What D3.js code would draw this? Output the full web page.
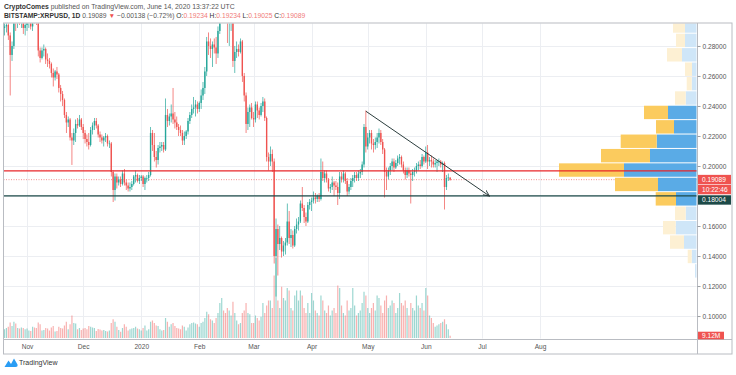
<!DOCTYPE html>
<html><head><meta charset="utf-8">
<script src="https://cdn.jsdelivr.net/npm/d3@7"></script>
<style>
body{margin:0;background:#fff;}
svg{display:block;font-family:"Liberation Sans",Arial,sans-serif;}
</style>
</head><body>
<svg id="c" width="736" height="375"></svg>
<script>
// ---------------- DATA ----------------
const startDate = "2019-10-20";            // first daily candle
// [open, high, low, close, volume (M)]
const candlesOct2019 = [
[0.292,0.296,0.287,0.293,35],[0.293,0.298,0.289,0.294,40],[0.294,0.297,0.284,0.287,45],
[0.287,0.289,0.247,0.274,62],[0.274,0.283,0.270,0.280,48],[0.280,0.305,0.278,0.301,65],
[0.301,0.320,0.290,0.298,58],[0.298,0.305,0.292,0.301,40],[0.301,0.306,0.294,0.297,38],
[0.297,0.304,0.292,0.301,42],[0.301,0.302,0.288,0.292,40],[0.292,0.296,0.287,0.294,35]];
const candlesNov2019 = [
[0.294,0.300,0.290,0.296,38],[0.296,0.301,0.292,0.297,30],[0.297,0.300,0.291,0.293,28],
[0.293,0.304,0.290,0.302,45],[0.302,0.306,0.295,0.300,42],[0.300,0.304,0.294,0.299,40],
[0.299,0.300,0.273,0.277,62],[0.277,0.279,0.269,0.272,55],[0.272,0.279,0.271,0.277,30],
[0.277,0.281,0.273,0.278,32],[0.278,0.279,0.268,0.271,40],[0.271,0.275,0.266,0.270,38],
[0.270,0.272,0.265,0.268,30],[0.268,0.269,0.259,0.262,42],[0.262,0.265,0.253,0.259,48],
[0.259,0.264,0.257,0.263,26],[0.263,0.266,0.258,0.261,28],[0.261,0.262,0.249,0.252,45],
[0.252,0.254,0.243,0.248,40],[0.248,0.250,0.240,0.244,38],[0.244,0.245,0.232,0.234,50],
[0.234,0.236,0.222,0.229,65],[0.229,0.233,0.226,0.231,35],[0.231,0.232,0.217,0.219,55],
[0.219,0.222,0.2007,0.217,90],[0.217,0.225,0.214,0.222,60],[0.222,0.231,0.216,0.228,58],
[0.228,0.232,0.225,0.227,35],[0.227,0.234,0.226,0.231,40],[0.231,0.232,0.224,0.226,32]];
const candlesDec2019 = [
[0.226,0.228,0.218,0.222,38],[0.222,0.224,0.215,0.218,40],[0.218,0.221,0.213,0.216,35],
[0.216,0.222,0.211,0.214,48],[0.214,0.226,0.213,0.224,45],[0.224,0.229,0.221,0.227,42],
[0.227,0.232,0.224,0.230,40],[0.230,0.232,0.225,0.227,28],[0.227,0.228,0.219,0.221,36],
[0.221,0.223,0.216,0.219,34],[0.219,0.221,0.215,0.217,30],[0.217,0.220,0.213,0.219,32],
[0.219,0.222,0.216,0.220,28],[0.220,0.221,0.213,0.215,26],[0.215,0.217,0.212,0.215,30],
[0.215,0.216,0.193,0.196,60],[0.196,0.197,0.176,0.184,75],[0.184,0.195,0.177,0.193,65],
[0.193,0.195,0.185,0.189,45],[0.189,0.193,0.187,0.191,32],[0.191,0.193,0.186,0.188,25],
[0.188,0.197,0.187,0.195,40],[0.195,0.198,0.187,0.189,55],[0.189,0.191,0.184,0.187,45],
[0.187,0.189,0.183,0.185,30],[0.185,0.189,0.183,0.186,35],[0.186,0.190,0.184,0.188,38],
[0.188,0.194,0.187,0.193,40],[0.193,0.197,0.189,0.194,45],[0.194,0.195,0.189,0.190,38],
[0.190,0.194,0.188,0.192,35]];
const candlesJan2020 = [
[0.192,0.194,0.190,0.193,30],[0.193,0.194,0.186,0.188,40],[0.188,0.193,0.184,0.192,50],
[0.192,0.194,0.189,0.192,30],[0.192,0.196,0.190,0.194,35],[0.194,0.226,0.193,0.222,65],
[0.222,0.224,0.210,0.214,70],[0.214,0.222,0.203,0.206,60],[0.206,0.210,0.199,0.204,50],
[0.204,0.214,0.201,0.212,48],[0.212,0.216,0.209,0.213,35],[0.213,0.216,0.210,0.214,30],
[0.214,0.216,0.209,0.211,32],[0.211,0.245,0.210,0.234,80],[0.234,0.238,0.226,0.230,65],
[0.230,0.235,0.227,0.233,45],[0.233,0.241,0.229,0.235,55],[0.235,0.252,0.228,0.231,60],
[0.231,0.236,0.225,0.229,48],[0.229,0.233,0.224,0.226,40],[0.226,0.228,0.220,0.224,38],
[0.224,0.227,0.220,0.222,35],[0.222,0.224,0.214,0.217,50],[0.217,0.223,0.214,0.220,45],
[0.220,0.224,0.218,0.223,30],[0.223,0.232,0.221,0.230,42],[0.230,0.236,0.228,0.234,55],
[0.234,0.241,0.232,0.238,60],[0.238,0.246,0.235,0.239,62],[0.239,0.244,0.233,0.241,58],
[0.241,0.243,0.235,0.238,55]];
const candlesFeb2020 = [
[0.238,0.243,0.236,0.242,45],[0.242,0.251,0.238,0.247,60],[0.247,0.256,0.244,0.252,65],
[0.252,0.266,0.248,0.263,80],[0.263,0.286,0.260,0.283,105],[0.283,0.289,0.274,0.280,95],
[0.280,0.285,0.272,0.278,75],[0.278,0.283,0.266,0.281,70],[0.281,0.285,0.275,0.279,60],
[0.279,0.286,0.268,0.275,80],[0.275,0.293,0.272,0.290,100],[0.290,0.320,0.288,0.315,140],
[0.315,0.345,0.310,0.330,160],[0.330,0.340,0.318,0.328,110],[0.328,0.335,0.305,0.312,100],
[0.312,0.318,0.282,0.298,120],[0.298,0.305,0.280,0.300,110],[0.300,0.310,0.290,0.305,90],
[0.305,0.308,0.266,0.270,145],[0.270,0.280,0.262,0.276,100],[0.276,0.283,0.272,0.278,70],
[0.278,0.281,0.273,0.276,55],[0.276,0.285,0.275,0.283,60],[0.283,0.284,0.256,0.260,100],
[0.260,0.262,0.243,0.247,110],[0.247,0.249,0.222,0.228,140],[0.228,0.239,0.224,0.236,100],
[0.236,0.241,0.226,0.239,95],[0.239,0.242,0.231,0.232,60]];
const candlesMar2020 = [
[0.232,0.236,0.226,0.231,60],[0.231,0.243,0.229,0.241,90],[0.241,0.243,0.232,0.237,80],
[0.237,0.239,0.231,0.234,70],[0.234,0.242,0.233,0.240,85],[0.240,0.246,0.236,0.243,140],
[0.243,0.245,0.230,0.232,100],[0.232,0.233,0.203,0.206,130],[0.206,0.209,0.197,0.203,150],
[0.203,0.213,0.200,0.208,150],[0.208,0.211,0.196,0.203,120],[0.203,0.205,0.135,0.140,250],
[0.140,0.165,0.113,0.158,320],[0.158,0.161,0.127,0.148,150],[0.148,0.160,0.144,0.152,120],
[0.152,0.153,0.139,0.143,205],[0.143,0.150,0.140,0.147,160],[0.147,0.152,0.141,0.149,150],
[0.149,0.175,0.147,0.163,200],[0.163,0.170,0.148,0.152,190],[0.152,0.158,0.146,0.154,120],
[0.154,0.157,0.145,0.147,110],[0.147,0.160,0.146,0.158,170],[0.158,0.165,0.155,0.161,190],
[0.161,0.166,0.157,0.163,150],[0.163,0.177,0.162,0.175,190],[0.175,0.186,0.170,0.172,170],
[0.172,0.174,0.162,0.166,120],[0.166,0.169,0.160,0.163,100],[0.163,0.176,0.162,0.174,140],
[0.174,0.178,0.171,0.176,100]];
const candlesApr2020 = [
[0.176,0.179,0.170,0.177,180],[0.177,0.183,0.175,0.179,150],[0.179,0.182,0.175,0.178,110],
[0.178,0.181,0.176,0.180,100],[0.180,0.182,0.176,0.178,90],[0.178,0.205,0.177,0.196,170],
[0.196,0.203,0.190,0.192,150],[0.192,0.197,0.189,0.195,110],[0.195,0.197,0.189,0.191,100],
[0.191,0.192,0.183,0.185,130],[0.185,0.188,0.182,0.186,90],[0.186,0.193,0.184,0.189,110],
[0.189,0.190,0.180,0.187,120],[0.187,0.190,0.184,0.186,100],[0.186,0.189,0.174,0.182,210],
[0.182,0.196,0.178,0.193,200],[0.193,0.196,0.189,0.191,130],[0.191,0.197,0.189,0.195,100],
[0.195,0.196,0.188,0.190,90],[0.190,0.192,0.180,0.183,150],[0.183,0.188,0.181,0.186,110],
[0.186,0.192,0.184,0.190,120],[0.190,0.194,0.186,0.192,200],[0.192,0.196,0.189,0.194,130],
[0.194,0.196,0.190,0.192,90],[0.192,0.197,0.190,0.195,100],[0.195,0.198,0.192,0.196,110],
[0.196,0.203,0.194,0.201,140],[0.201,0.228,0.199,0.226,185],[0.226,0.237,0.209,0.213,170]];
const candlesMay2020 = [
[0.213,0.222,0.211,0.219,120],[0.219,0.224,0.215,0.222,100],[0.222,0.224,0.211,0.215,120],
[0.215,0.218,0.209,0.214,140],[0.214,0.219,0.211,0.216,110],[0.216,0.222,0.212,0.219,170],
[0.219,0.225,0.215,0.222,160],[0.222,0.224,0.214,0.216,130],[0.216,0.218,0.208,0.211,100],
[0.211,0.212,0.179,0.196,150],[0.196,0.199,0.184,0.193,170],[0.193,0.199,0.191,0.197,120],
[0.197,0.202,0.194,0.200,130],[0.200,0.205,0.197,0.203,150],[0.203,0.205,0.196,0.199,140],
[0.199,0.204,0.198,0.202,100],[0.202,0.207,0.200,0.205,120],[0.205,0.208,0.201,0.206,180],
[0.206,0.207,0.199,0.201,140],[0.201,0.203,0.195,0.197,130],[0.197,0.199,0.191,0.194,150],
[0.194,0.199,0.192,0.197,120],[0.197,0.199,0.193,0.195,90],[0.195,0.197,0.175,0.194,140],
[0.194,0.198,0.190,0.196,120],[0.196,0.199,0.193,0.197,110],[0.197,0.202,0.195,0.200,170],
[0.200,0.203,0.197,0.201,130],[0.201,0.204,0.198,0.200,120],[0.200,0.208,0.199,0.206,140],
[0.206,0.207,0.201,0.203,110]];
const candlesJun2020 = [
[0.203,0.213,0.202,0.209,200],[0.209,0.214,0.198,0.203,170],[0.203,0.206,0.200,0.204,90],
[0.204,0.207,0.199,0.203,80],[0.203,0.205,0.199,0.201,60],[0.201,0.204,0.199,0.202,45],
[0.202,0.204,0.196,0.203,50],[0.203,0.205,0.200,0.203,55],[0.203,0.204,0.199,0.201,60],
[0.201,0.203,0.196,0.202,65],[0.202,0.203,0.171,0.186,75],[0.186,0.194,0.184,0.192,55],
[0.192,0.195,0.190,0.19234,35],[0.19234,0.19234,0.19025,0.19089,9.12]];

// Visible volume profile (rows from lowest price upward)
const profileBottom = 0.1253, profileRowSize = 0.0096;
const profileUp   = [40,106,260,426,226,420,780,1460,940,806,460,580,226,106,100,300,240,240];
const profileDown = [0,80,280,254,214,406,860,1300,980,720,360,480,214,100,140,300,180,240];
const valueAreaRows = [5, 11];

const priceTicks = [0.10,0.12,0.14,0.16,0.18,0.20,0.22,0.24,0.26,0.28];
const monthTicks = ["2019-11-01","2019-12-01","2020-01-01","2020-02-01","2020-03-01","2020-04-01","2020-05-01","2020-06-01","2020-07-01","2020-08-01"];
const monthLabels = ["Nov","Dec","2020","Feb","Mar","Apr","May","Jun","Jul","Aug"];

const resistanceLevel = 0.1967;
const supportLevel = 0.18004;
const lastPrice = 0.19089;
const countdown = "10:22:46";
const lastVolumeLabel = "9.12M";
const trendLine = [["2020-04-30",0.2365],["2020-07-05",0.1800]];

// ---------------- LAYOUT ----------------
const L = 3.5, T = 23, PR = 697, R = 732, AX = 339, B = 354;
const UP = "#26a69a", DN = "#ef5350";

const parse = d3.utcParse("%Y-%m-%d");
const all = [].concat(candlesOct2019,candlesNov2019,candlesDec2019,candlesJan2020,candlesFeb2020,
  candlesMar2020,candlesApr2020,candlesMay2020,candlesJun2020);
const t0 = parse(startDate);
const data = all.map((r,i)=>({date:d3.utcDay.offset(t0,i),o:r[0],h:r[1],l:r[2],c:r[3],v:r[4]}));

const x = d3.scaleUtc().domain([parse("2019-11-01"),parse("2020-08-01")]).range([27,540]);
const y = d3.scaleLinear().domain([0.0847,0.2953]).range([AX,T]);
const yv = d3.scaleLinear().domain([0,400]).range([338,238]);
const pw = d3.scaleLinear().domain([0,2000]).range([0,100]);

const svg = d3.select("#c");
svg.append("rect").attr("width",736).attr("height",375).attr("fill","#fff");
svg.append("clipPath").attr("id","plot").append("rect")
  .attr("x",L+0.5).attr("y",T+0.5).attr("width",PR-L-1).attr("height",AX-T-1);

const plot = svg.append("g").attr("clip-path","url(#plot)");
// grid
plot.append("g").selectAll("line").data(priceTicks).join("line")
  .attr("x1",L).attr("x2",PR).attr("y1",d=>Math.round(y(d))+0.5).attr("y2",d=>Math.round(y(d))+0.5)
  .attr("stroke","#eceef2");
plot.append("g").selectAll("line").data(monthTicks).join("line")
  .attr("x1",d=>Math.round(x(parse(d)))+0.5).attr("x2",d=>Math.round(x(parse(d)))+0.5)
  .attr("y1",T).attr("y2",AX).attr("stroke","#eceef2");

// volume
plot.append("g").selectAll("rect").data(data).join("rect")
  .attr("x",d=>x(d.date)-0.6).attr("width",1.2)
  .attr("y",d=>yv(d.v)).attr("height",d=>yv(0)-yv(d.v))
  .attr("fill",d=>d.c>=d.o?UP:DN).attr("opacity",0.45);

// current price dotted line
plot.append("line").attr("x1",L).attr("x2",PR).attr("y1",y(lastPrice)).attr("y2",y(lastPrice))
  .attr("stroke",DN).attr("stroke-width",0.8).attr("stroke-dasharray","1,1.5").attr("opacity",0.8);

// candles
const cg = plot.append("g");
cg.selectAll("rect.w").data(data).join("rect").attr("class","w")
  .attr("x",d=>x(d.date)-0.35).attr("width",0.7)
  .attr("y",d=>y(d.h)).attr("height",d=>Math.max(0.5,y(d.l)-y(d.h)))
  .attr("fill",d=>d.c>=d.o?UP:DN);
cg.selectAll("rect.b").data(data).join("rect").attr("class","b")
  .attr("x",d=>x(d.date)-0.7).attr("width",1.4)
  .attr("y",d=>y(Math.max(d.o,d.c))).attr("height",d=>Math.max(0.7,Math.abs(y(d.o)-y(d.c))))
  .attr("fill",d=>d.c>=d.o?UP:DN);

// volume profile
const rows = profileUp.map((u,i)=>({i,u,d:profileDown[i],lo:profileBottom+i*profileRowSize,hi:profileBottom+(i+1)*profileRowSize}));
const inVA = r=>r.i>=valueAreaRows[0]&&r.i<=valueAreaRows[1];
const pg = plot.append("g");
pg.selectAll("rect.u").data(rows).join("rect").attr("class","u")
  .attr("x",r=>PR-pw(r.u)).attr("width",r=>pw(r.u))
  .attr("y",r=>y(r.hi)+0.5).attr("height",r=>y(r.lo)-y(r.hi)-1)
  .attr("fill",r=>inVA(r)?"#5aabe6":"#cfe6f8");
pg.selectAll("rect.d").data(rows).join("rect").attr("class","d")
  .attr("x",r=>PR-pw(r.u)-pw(r.d)).attr("width",r=>pw(r.d))
  .attr("y",r=>y(r.hi)+0.5).attr("height",r=>y(r.lo)-y(r.hi)-1)
  .attr("fill",r=>inVA(r)?"#fbcb5e":"#fdf0d3");

// horizontal levels
plot.append("line").attr("x1",L).attr("x2",PR).attr("y1",y(resistanceLevel)).attr("y2",y(resistanceLevel))
  .attr("stroke","#e8262a").attr("stroke-width",1.2);
plot.append("line").attr("x1",L).attr("x2",PR).attr("y1",y(supportLevel)).attr("y2",y(supportLevel))
  .attr("stroke","#1d4a48").attr("stroke-width",1.2);

// trend line with arrow
const defs = svg.append("defs");
defs.append("marker").attr("id","arr").attr("viewBox","0 0 10 10").attr("refX",9).attr("refY",5)
  .attr("markerWidth",7).attr("markerHeight",7).attr("orient","auto")
  .append("path").attr("d","M0,1 L9,5 L0,9").attr("fill","none").attr("stroke","#2b3d3d").attr("stroke-width",1.3);
plot.append("line")
  .attr("x1",x(parse(trendLine[0][0]))).attr("y1",y(trendLine[0][1]))
  .attr("x2",x(parse(trendLine[1][0]))).attr("y2",y(trendLine[1][1]))
  .attr("stroke","#2b3d3d").attr("stroke-width",1).attr("marker-end","url(#arr)");

// frames
const fr = svg.append("g").attr("fill","none").attr("stroke","#b9bcc2").attr("stroke-width",1);
fr.append("rect").attr("x",L).attr("y",T).attr("width",R-L).attr("height",B-T);
fr.append("line").attr("x1",PR+0.5).attr("x2",PR+0.5).attr("y1",T).attr("y2",B);
fr.append("line").attr("x1",L).attr("x2",R).attr("y1",AX+0.5).attr("y2",AX+0.5);

// price tags occupy part of the axis; tick labels under them are hidden (as on the chart)
const yl = y(lastPrice);
const tags = [
  {y0:yl-4.8, y1:yl+4.6, w:33, fill:"#ef5350", txt:d3.format(".5f")(lastPrice)},
  {y0:yl+5.2, y1:yl+14.6, w:33, fill:"#ef5350", txt:countdown},
  {y0:yl+15.6, y1:yl+25, w:33, fill:"#1d4a48", txt:d3.format(".5f")(supportLevel)},
  {y0:yv(9.12)-4, y1:yv(9.12)+3.6, w:26, fill:"#ef5350", txt:lastVolumeLabel}
];
const hidden = v => tags.some(t => y(v) > t.y0-3 && y(v) < t.y1+3);

// axes
const ya = svg.append("g").attr("transform",`translate(${PR+0.5},0)`)
  .call(d3.axisRight(y).tickValues(priceTicks.filter(v=>!hidden(v))).tickFormat(d3.format(".5f")).tickSize(3).tickPadding(2));
ya.select(".domain").remove();
ya.selectAll("line").attr("stroke","#9a9da3");
ya.selectAll("text").attr("fill","#555").attr("font-size",6.6).attr("font-family","Liberation Sans,Arial,sans-serif");

const xa = svg.append("g").attr("transform",`translate(0,${AX})`)
  .call(d3.axisBottom(x).tickValues(monthTicks.map(parse)).tickFormat((d,i)=>monthLabels[i]).tickSize(0).tickPadding(5.5));
xa.select(".domain").remove();
xa.selectAll("text").attr("fill","#555").attr("font-size",6.6).attr("font-family","Liberation Sans,Arial,sans-serif");

tags.forEach(t=>{
  svg.append("rect").attr("x",PR+1).attr("y",t.y0).attr("width",t.w).attr("height",t.y1-t.y0).attr("fill",t.fill);
  svg.append("text").attr("x",PR+5).attr("y",(t.y0+t.y1)/2+2.3).attr("fill","#fff").attr("font-size",6.6).text(t.txt);
});

// header
function fit(sel,target){const w=sel.node().getComputedTextLength();sel.attr("font-size",8*target/w);}
const h1 = svg.append("text").attr("x",4).attr("y",9).attr("font-size",8).attr("fill","#555");
h1.append("tspan").attr("font-weight","bold").attr("fill","#333").text("CryptoComes");
h1.append("tspan").text(" published on TradingView.com, June 14, 2020 13:37:22 UTC");
fit(h1,231);
const h2 = svg.append("text").attr("x",4).attr("y",18.3).attr("font-size",8).attr("fill","#555");
h2.append("tspan").attr("font-weight","bold").attr("fill","#333").text("BITSTAMP:XRPUSD, 1D");
h2.append("tspan").text(" 0.19089 ");
h2.append("tspan").attr("fill","#ef5350").text("▼");
h2.append("tspan").text(" −0.00138 (−0.72%) ");
const ohlc=[["O:","0.19234"],["H:","0.19234"],["L:","0.19025"],["C:","0.19089"]];
ohlc.forEach((p,i)=>{h2.append("tspan").attr("fill","#333").text((i?" ":"")+p[0]);h2.append("tspan").attr("fill","#f07a78").text(p[1]);});
fit(h2,302);

// footer logo
const lg = svg.append("g").attr("fill","#2a9df4");
lg.append("path").attr("d","M4.5,367 L8.5,360.5 L11,364 L14,358.5 L17.5,364.5 Q18,367 15.5,367 Z");
svg.append("text").attr("x",19).attr("y",365).attr("font-size",7).attr("fill","#333").text("TradingView");
</script>
</body></html>
